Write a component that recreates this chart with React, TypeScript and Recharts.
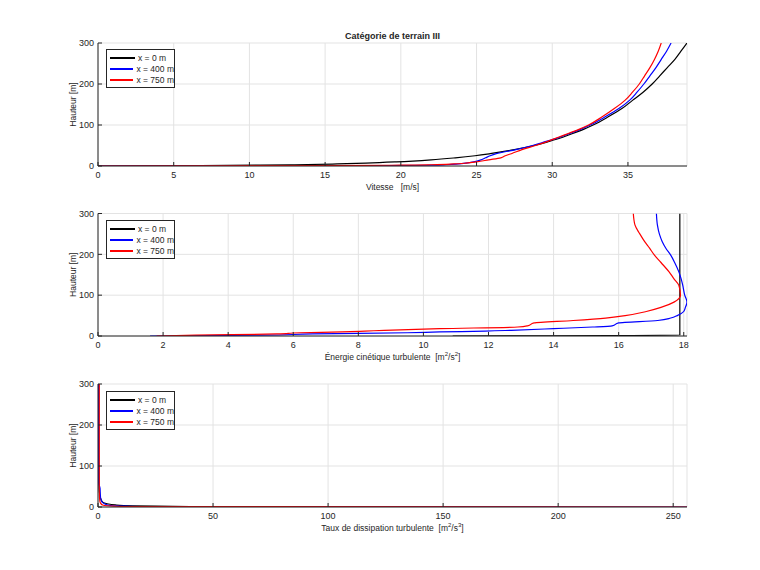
import { LineChart, Line, XAxis, YAxis, CartesianGrid, Legend } from "recharts";

const FONT = '"Liberation Sans", Arial, Helvetica, sans-serif';
const AXIS = "#262626";
const GRID = "#e3e3e3";

const seriesNames = ["x = 0 m", "x = 400 m", "x = 750 m"];
const seriesColors = ["#000000", "#0000ff", "#ff0000"];
const hTicks = [0, 100, 200, 300];

// vitesse
const hVit = [0, 1, 2, 3, 5, 7, 10, 15, 20, 25, 30, 40, 50, 60, 70, 80, 90, 100, 120, 140, 160, 180, 200, 220, 240, 260, 280, 300];
const vit0 = [0, 6.8, 10.7, 13.0, 15.8, 17.7, 19.7, 22.0, 23.6, 24.9, 25.9, 27.5, 28.8, 29.8, 30.7, 31.4, 32.1, 32.7, 33.7, 34.6, 35.3, 36.0, 36.6, 37.1, 37.6, 38.1, 38.5, 38.9];
const vit400 = [0, 19.0, 22.0, 23.0, 23.8, 24.3, 24.8, 25.3, 25.6, 25.9, 26.3, 27.6, 28.7, 29.6, 30.5, 31.2, 31.9, 32.5, 33.5, 34.4, 35.1, 35.6, 36.05, 36.45, 36.85, 37.2, 37.55, 37.85];
const vit750 = [0, 15.0, 20.0, 22.0, 23.5, 24.3, 25.0, 25.8, 26.6, 26.9, 27.3, 28.0, 28.9, 29.7, 30.4, 31.1, 31.8, 32.4, 33.3, 34.1, 34.8, 35.3, 35.75, 36.1, 36.45, 36.75, 37.0, 37.2];
const vitTicks = [0, 5, 10, 15, 20, 25, 30, 35];

// energie cinetique turbulente
const hTke = [0, 2, 5, 8, 10, 12, 14, 18, 22, 25, 32, 38, 44, 50, 60, 70, 83, 100, 124, 140, 157, 180, 198, 215, 231, 250, 272, 300];
const tke0 = [10.9, 17.88, 17.88, 17.88, 17.88, 17.88, 17.88, 17.88, 17.88, 17.88, 17.88, 17.88, 17.88, 17.88, 17.88, 17.88, 17.88, 17.88, 17.88, 17.88, 17.88, 17.88, 17.88, 17.88, 17.88, 17.88, 17.88, 17.88];
const tke400 = [1.6, 5.0, 6.6, 9.5, 10.5, 11.9, 12.7, 14.0, 15.2, 15.8, 16.0, 17.2, 17.6, 17.8, 18.0, 18.05, 18.1, 18.03, 17.97, 17.92, 17.85, 17.72, 17.6, 17.45, 17.34, 17.25, 17.19, 17.16];
const tke750 = [1.8, 3.0, 5.5, 6.2, 7.5, 8.2, 8.8, 10.5, 12.9, 13.2, 13.4, 14.6, 15.6, 16.2, 16.85, 17.3, 17.7, 17.9, 17.85, 17.7, 17.55, 17.3, 17.1, 16.95, 16.8, 16.65, 16.5, 16.45];
const tkeTicks = [0, 2, 4, 6, 8, 10, 12, 14, 16, 18];

// taux de dissipation
const hEps = [0, 1, 2, 3, 5, 8, 12, 20, 30, 45, 60, 100, 135, 200, 300];
const eps0 = [60, 40, 25, 15, 7.5, 4, 2, 1.2, 0.8, 0.5, 0.45, 0.4, 0.3, 0.3, 0.3];
const eps400 = [256, 25, 12, 7, 4, 2.8, 1.8, 1.2, 1.0, 0.9, 0.3, 0.3, 0.3, 0.3, 0.3];
const eps750 = [256, 14, 7, 4, 2, 1.3, 0.9, 0.7, 0.6, 0.55, 0.55, 0.55, 0.55, 0.55, 0.55];
const epsTicks = [0, 50, 100, 150, 200, 250];

function rows(h: number[], a: number[], b: number[], c: number[]) {
  return h.map((v, i) => ({ h: v, s0: a[i], s1: b[i], s2: c[i] }));
}

function LegendBox() {
  return (
    <div
      style={{
        border: `1px solid ${AXIS}`,
        background: "#fff",
        width: 67,
        padding: "2px 0",
        fontFamily: FONT,
        fontSize: 8.5,
        color: AXIS,
      }}
    >
      {seriesNames.map((n, i) => (
        <div key={n} style={{ display: "flex", alignItems: "center", height: 11 }}>
          <span
            style={{
              display: "inline-block",
              width: 25,
              height: 2,
              background: seriesColors[i],
              marginLeft: 3,
              marginRight: 3,
            }}
          />
          <span style={{ whiteSpace: "nowrap" }}>{n}</span>
        </div>
      ))}
    </div>
  );
}

function XTitle(props: any) {
  const { viewBox, text, unit, sup } = props;
  const x = viewBox.x + viewBox.width / 2;
  const y = viewBox.y + 24;
  return (
    <text x={x} y={y} textAnchor="middle" fontFamily={FONT} fontSize={8.5} fill={AXIS} style={{ whiteSpace: "pre" }}>
      <tspan>{text}</tspan>
      {sup ? (
        <>
          <tspan>[m</tspan>
          <tspan dy={-4} fontSize={6}>2</tspan>
          <tspan dy={4}>/s</tspan>
          <tspan dy={-4} fontSize={6}>{sup}</tspan>
          <tspan dy={4}>]</tspan>
        </>
      ) : (
        <tspan>{unit}</tspan>
      )}
    </text>
  );
}

function Panel(props: any) {
  const { data, domain, ticks, title, top, height, mTop, mBottom, legendTop } = props;
  const tickStyle = { fontSize: 9, fill: AXIS, fontFamily: FONT };
  return (
    <div style={{ position: "absolute", left: 0, top, width: 760, height }}>
      <LineChart
        width={760}
        height={height}
        data={data}
        layout="vertical"
        margin={{ top: mTop, right: 73, bottom: mBottom, left: 68 }}
      >
        <CartesianGrid stroke={GRID} />
        <XAxis
          type="number"
          domain={domain}
          ticks={ticks}
          allowDataOverflow
          height={30}
          tickSize={-4}
          tickMargin={10}
          stroke={AXIS}
          tick={tickStyle}
          label={title}
        />
        <XAxis
          xAxisId="t"
          orientation="top"
          type="number"
          domain={domain}
          ticks={ticks}
          allowDataOverflow
          height={0}
          tickSize={-4}
          stroke={AXIS}
          tickFormatter={() => ""}
        />
        <YAxis
          type="number"
          dataKey="h"
          domain={[0, 300]}
          ticks={hTicks}
          allowDataOverflow
          reversed
          width={30}
          tickSize={-4}
          tickMargin={8}
          stroke={AXIS}
          tick={tickStyle}
          label={{
            value: "Hauteur [m]",
            angle: -90,
            position: "insideLeft",
            offset: 5,
            style: { textAnchor: "middle", fontSize: 8.5, fill: AXIS, fontFamily: FONT },
          }}
        />
        <YAxis
          yAxisId="r"
          orientation="right"
          type="number"
          domain={[0, 300]}
          ticks={hTicks}
          allowDataOverflow
          reversed
          width={0}
          tickSize={-4}
          stroke={AXIS}
          tickFormatter={() => ""}
        />
        <Legend
          layout="vertical"
          align="center"
          verticalAlign="middle"
          content={<LegendBox />}
          wrapperStyle={{ left: 106, top: legendTop, width: "auto", height: "auto" }}
        />
        {["s0", "s1", "s2"].map((k, i) => (
          <Line
            key={k}
            dataKey={k}
            name={seriesNames[i]}
            type="monotone"
            stroke={seriesColors[i]}
            strokeWidth={1.2}
            dot={false}
            activeDot={false}
            isAnimationActive={false}
          />
        ))}
      </LineChart>
    </div>
  );
}

export default function App() {
  return (
    <div style={{ position: "absolute", left: 0, top: 0, width: 760, height: 570, background: "#fff" }}>
      <div
        style={{
          position: "absolute",
          left: 98,
          top: 30,
          width: 589,
          textAlign: "center",
          fontFamily: FONT,
          fontWeight: "bold",
          fontSize: 9,
          lineHeight: "12px",
          color: AXIS,
        }}
      >
        Catégorie de terrain III
      </div>
      <Panel
        data={rows(hVit, vit0, vit400, vit750)}
        domain={[0, 38.9]}
        ticks={vitTicks}
        title={<XTitle text="Vitesse   " unit="[m/s]" />}
        top={0}
        height={200}
        mTop={43}
        mBottom={4}
        legendTop={49}
      />
      <Panel
        data={rows(hTke, tke0, tke400, tke750)}
        domain={[0, 18.1]}
        ticks={tkeTicks}
        title={<XTitle text="Énergie cinétique turbulente  " sup="2" />}
        top={200}
        height={170}
        mTop={13.5}
        mBottom={4}
        legendTop={20}
      />
      <Panel
        data={rows(hEps, eps0, eps400, eps750)}
        domain={[0, 256]}
        ticks={epsTicks}
        title={<XTitle text="Taux de dissipation turbulente  " sup="3" />}
        top={370}
        height={200}
        mTop={14}
        mBottom={33}
        legendTop={21}
      />
    </div>
  );
}
